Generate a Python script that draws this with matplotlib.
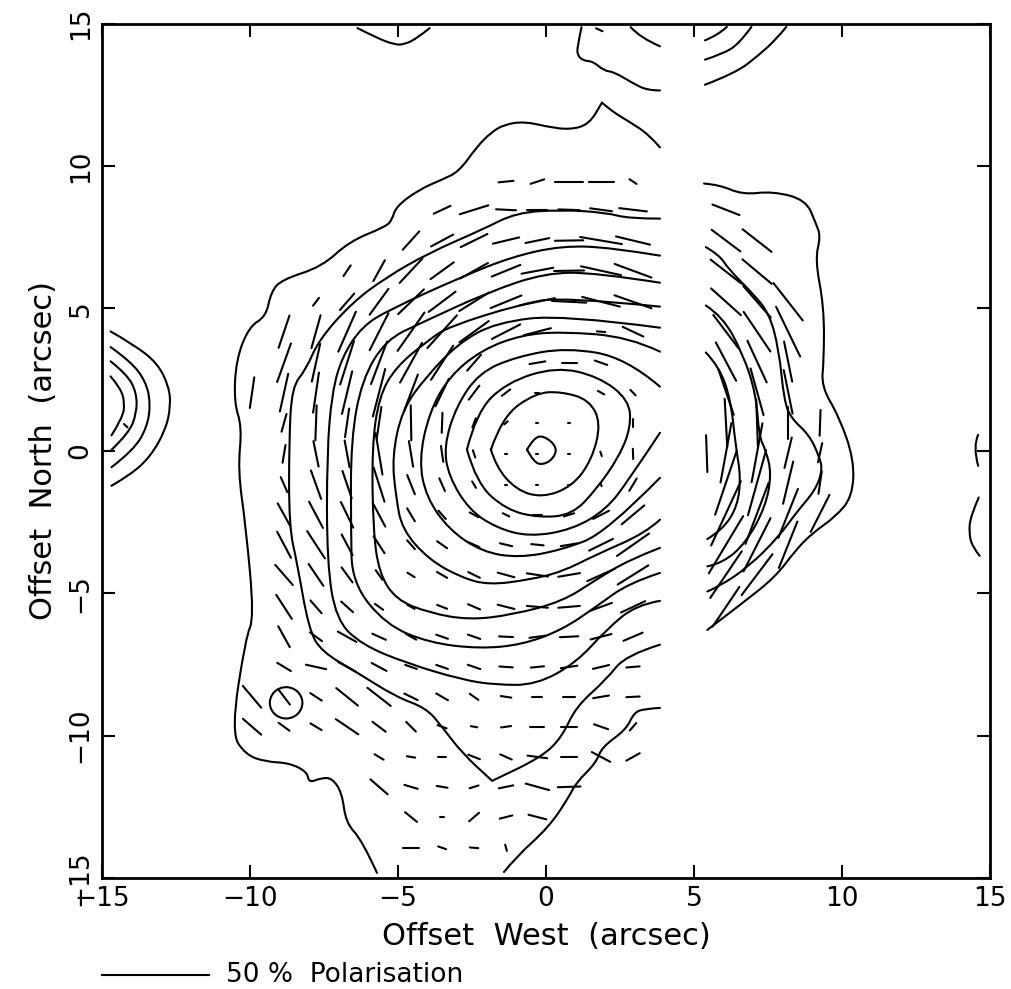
import numpy as np
import matplotlib
matplotlib.use("Agg")
import matplotlib.pyplot as plt
from matplotlib.path import Path
from matplotlib.patches import PathPatch, Circle

# contours, offsets in arcsec (x west, y north)
outer_left = [(3.85,10.65),(3.48,11.1),(2.8,11.56),(2.3,11.87),(1.89,12.22),(1.89,12.22),(1.45,11.45),(.78,11.27),(.03,11.38),
              (-.74,11.56),(-1.42,11.45),(-1.86,11.17),(-2.33,10.68),(-2.94,9.8),(-3.51,9.52),(-4.29,9.17),(-5.07,8.57),
              (-5.2,8.11),(-5.41,7.87),(-6.66,7.34),(-7.57,6.46),(-8.92,6.01),(-9.29,5.58),(-9.46,4.71),(-10.03,4.36),
              (-10.47,3.2),(-10.54,1.69),(-10.27,.84),(-10.41,-.67),(-10.14,-2.67),(-9.86,-5.87),(-10.14,-6.53),
              (-10.64,-9.9),(-10.14,-10.68),(-9.46,-10.92),(-8.68,-10.96),(-8.07,-11.27),(-8.01,-11.66),(-7.6,-11.49),
              (-7.23,-11.49),(-6.89,-12.01),(-6.76,-13.07),(-6.22,-13.66),(-5.71,-14.82)]
outer_low = [(-1.42,-14.79),(-1.01,-14.26),(.1,-13.21),(.78,-12.15),(1.01,-11.66),(1.69,-10.96),(1.89,-10.4),
             (2.7,-9.8),(2.97,-9.2),(3.31,-9.06),(3.85,-9.03)]
level_a = [(3.85,-6.81),(2.7,-7.17),(2.03,-8.04),(1.01,-8.99),(.54,-10.05),(-.14,-10.75),(-1.82,-11.59),(-1.82,-11.59),
           (-2.84,-10.61),(-3.51,-9.69),(-4.05,-9.03),(-5.07,-8.64),(-6.42,-7.76),(-7.57,-7.06),(-8.01,-6.29),(-8.41,-3.93),
           (-8.68,-2.67),(-8.68,.39),(-8.58,2.25),(-8.11,2.85),(-7.67,3.9),(-6.55,5.2),(-5.41,6.08),(-3.95,6.95),
           (-2.16,7.76),(-1.01,8.36),(.54,8.46),(2.03,8.36),(2.8,8.15),(3.85,8.15)]
level_b = [(3.85,-5.27),(3.04,-5.41),(2.03,-6.29),(1.01,-7.45),(-.34,-8.22),(-1.69,-8.22),(-2.84,-8.04),(-4.73,-7.45),
           (-6.22,-6.81),(-7.09,-5.94),(-7.4,-3.93),(-7.4,-.07),(-7.23,2.04),(-6.89,3.3),(-6.22,4.36),(-5.3,4.95),
           (-2.84,6.11),(-1.15,6.81),(.54,7.2),(2.23,7.13),(3.85,6.85)]
level_c = [(3.85,-4.29),(2.8,-4.64),(1.69,-5.48),(.54,-6.29),(-.81,-6.81),(-2.26,-6.95),(-3.95,-6.74),(-5.41,-6.11),
           (-6.55,-4.64),(-6.59,-2.77),(-6.59,.39),(-6.22,2.49),(-5.41,3.9),(-4.19,4.5),(-1.93,5.58),(0,6.25),(1.69,6.25),(3.85,5.9)]
level_d = [(3.85,-3.41),(2.8,-3.83),(1.69,-4.53),(.54,-5.3),(-1.15,-5.76),(-2.6,-5.94),(-3.95,-5.69),(-5.07,-5.23),
           (-5.64,-4.29),(-5.84,-2.77),(-5.88,.14),(-5.64,1.9),(-5.07,2.95),(-3.95,3.9),(-3.28,4.36),(-.91,5.13),(.54,5.41),(3.85,5.06)]
level_e = [(3.85,-2.42),(3.38,-2.88),(1.69,-3.65),(.54,-4.25),(-.57,-4.53),(-1.93,-4.71),(-2.84,-4.46),(-3.95,-3.83),
           (-4.86,-2.77),(-5.07,-1.62),(-5.2,-.21),(-4.86,1.44),(-4.05,2.6),(-2.94,3.79),(-1.69,4.5),(.54,4.78),(3.85,4.32)]
level_f = [(3.85,-.95),(2.03,-2.88),(.54,-3.48),(-.91,-3.76),(-2.16,-3.55),(-3.28,-2.77),(-4.05,-1.62),(-4.29,-.32),
           (-3.95,1.33),(-3.28,2.6),(-2.16,3.55),(-.81,4.07),(.54,4.18),(2.8,4.0),(3.85,3.48)]
level_g = [(3.85,.63),(2.8,-1.02),(2.03,-2.07),(.88,-2.77),(-.57,-3.02),(-1.69,-2.7),(-2.6,-2.07),(-3.28,-.91),(-3.45,.14),
           (-3.04,1.55),(-2.26,2.74),(-1.01,3.3),(.68,3.62),(2.7,3.27),(3.85,2.25)]
level_h = [(-2.67,.04),(-2.36,1.33),(-1.35,2.39),(.34,2.95),(1.79,2.6),(2.8,1.79),(2.87,.84),(2.47,-.21),(1.69,-1.37),
           (.88,-2.25),(-.24,-2.35),(-1.35,-2.07),(-2.36,-1.12),(-2.67,.04)]
level_i = [(-1.86,.04),(-1.49,1.19),(-.34,2.04),(.54,2.07),(1.45,1.79),(1.86,.98),(1.55,-.32),(.88,-1.26),(-.14,-1.65),
           (-1.01,-1.37),(-1.69,-.56),(-1.86,.04)]
level_j = [(-.64,.04),(-.41,.46),(-.07,.53),(.37,.14),(.27,-.25),(-.07,-.49),(-.41,-.42),(-.64,.04)]

right_0 = [(5.34,9.38),(5.85,9.34),(6.64,8.99),(7.65,9.11),(8.78,8.81),(9.11,8.0),(9.28,7.53),(9.09,6.71),(9.39,5.07),
           (9.39,3.19),(9.3,2.26),(9.9,1.2),(10.41,-.32),(10.35,-1.61),(9.79,-2.31),(9.0,-2.89),(8.44,-3.48),(7.76,-4.42),
           (6.64,-5.35),(5.45,-6.29)]
right_1 = [(5.4,7.15),(5.85,6.88),(6.18,6.36),(6.97,5.54),(7.54,4.83),(7.87,3.55),(8.04,1.79),(8.27,1.15),(8.89,.56),
           (9.23,-.2),(9.34,-.67),(9.11,-1.37),(8.44,-2.19),(7.87,-3.01),(6.86,-4.06),(5.85,-4.77),(5.45,-4.94)]
right_2 = [(5.4,5.1),(5.96,4.72),(6.64,3.43),(7.09,2.02),(7.2,.5),(7.42,.03),(7.62,-.79),(7.42,-1.96),(6.75,-3.24),
           (5.96,-3.95),(5.45,-4.06)]
right_3 = [(5.4,3.45),(5.85,2.96),(6.24,1.79),(6.41,.15),(6.58,-.9),(6.47,-1.96),(5.96,-2.78),(5.45,-3.1)]

# other sources cut by the edge of the map
left_arc_1 = [(-14.71,4.19),(-13.92,3.72),(-13.13,3.08),(-12.74,2.26),(-12.68,1.56),(-12.85,.74),(-13.36,-.2),(-14.03,-.84),(-14.68,-1.23)]
left_arc_2 = [(-14.71,3.64),(-14.03,3.14),(-13.52,2.43),(-13.36,1.67),(-13.47,.85),(-13.92,.03),(-14.68,-.58)]
left_arc_3 = [(-14.71,3.14),(-14.14,2.67),(-13.83,2.02),(-13.83,1.32),(-14.09,.62),(-14.68,.03)]
left_arc_4 = [(-14.71,2.61),(-14.37,2.2),(-14.23,1.67),(-14.31,1.15),(-14.68,.54)]
edge_arc_1 = [(14.6,.56),(14.42,.15),(14.6,-.53)]
edge_arc_2 = [(14.62,-1.64),(14.34,-2.3),(14.29,-2.89),(14.4,-3.36),(14.65,-3.69)]
top_arc_a = [(-6.37,14.84),(-5.75,14.51),(-5.13,14.26),(-4.79,14.26),(-4.34,14.49),(-3.93,14.84)]
top_arc_b = [(1.2,14.87),(1.06,14.2),(1.06,13.88),(1.27,13.69),(1.59,13.67),(1.96,13.34),(2.3,13.3),(2.92,12.91),(3.43,12.65),(3.85,12.65)]
top_arc_c = [(2.86,14.87),(3.2,14.49),(3.85,14.2)]
top_arc_d = [(5.37,14.41),(5.79,14.58),(6.11,14.88)]
top_arc_e = [(5.37,13.73),(5.96,13.93),(6.52,14.28),(6.94,14.88)]
top_arc_f = [(5.37,12.85),(6.41,13.26),(7.2,13.9),(7.76,14.43),(8.12,14.88)]

contours = [outer_left, outer_low, level_a, level_b, level_c, level_d, level_e, level_f, level_g, level_h, level_i, level_j,
            right_0, right_1, right_2, right_3, left_arc_1, left_arc_2, left_arc_3, left_arc_4, edge_arc_1, edge_arc_2,
            top_arc_a, top_arc_b, top_arc_c, top_arc_d, top_arc_e, top_arc_f]

# polarisation vectors, west of the gap: percent and angle in degrees per grid point
x_left = [-9.93, -8.85, -7.77, -6.72, -5.64, -4.56, -3.51, -2.43, -1.35, -0.29, 0.78, 1.86, 2.94]
y_left = [9.45, 8.46, 7.38, 6.32, 5.23, 4.18, 3.09, 2.04, 0.98, -0.11, -1.19, -2.25, -3.30, -4.36, -5.48, -6.53, -7.59,
          -8.64, -9.69, -10.75, -11.8, -12.86, -13.94]
pol_left = [
    [0,0,0,0,0,0,0,0,7,6.7,13.2,11.7,4],
    [0,0,0,0,0,0,8.7,14,9.3,9.3,10,10.3,13],
    [0,0,0,0,0,11.8,11.8,14,12.6,11.4,13.2,19.8,16.4],
    [0,0,0,6.2,11.5,15.9,13.6,15,14.5,15.1,14,19.2,18.4],
    [0,0,4.7,10.4,15.3,17,15.9,16.4,15.6,16.7,16,18.2,18.4],
    [0,16.5,16.5,21,20,22.4,21,17.1,15,13,0,3.9,10.7],
    [0,19.8,18.7,22,22,21.8,19.5,10,0,7.5,7,6.2,0],
    [15,18.7,19.6,21.2,23.7,18.7,14.6,8.4,5,1.9,0,3.4,3.6],
    [0,8.9,17,14,15.6,17,9.7,4.7,2.2,1,1,0,3.9],
    [0,8.7,12.6,13.2,20.3,12.6,7.8,3.6,1,1,1,2.3,5],
    [0,7.9,14.6,13.9,17.3,10,6.7,3.6,1,1,1,1.6,6.9],
    [0,12.6,14.3,13.7,12.8,7.2,5.3,4.7,3.4,3.9,5,8.4,14],
    [0,14.2,15.6,11.2,9.7,5.6,5.8,5.6,5.9,5.8,7.9,12.5,18.5],
    [0,12.8,12.6,8.9,5.6,4,5.5,6.1,8.1,10,10.3,14.2,17.1],
    [0,13.7,8.1,7.5,4.8,3.9,5,6.1,8.1,9.8,10.1,10.9,12.6],
    [0,11.5,7,10,7,5.6,5.8,6.2,6.5,7.5,8.6,10.1,9.8],
    [0,7.5,9.7,9.8,7.9,5.8,5.8,6.2,6.2,6.2,7.8,7.8,6.2],
    [13.6,9.3,6.5,13.2,14,7,6.4,5,5,4.7,5.9,7.5,6.2],
    [11.5,6.4,6.1,12.8,7.8,6.5,4.5,3,4.7,6.5,7.3,7,4.7],
    [0,0,0,0,5,3.9,3.9,5.9,5.9,9.3,7.8,9.8,7.2],
    [0,0,0,0,10.8,6.5,5.1,4.4,6.9,11.4,10.6,0,0],
    [0,0,0,0,0,7.3,1.9,6.2,6.1,8.6,0,0,0],
    [0,0,0,0,0,7.8,3.9,3.9,3.1,0,0,0,0],
]
ang_left = [
    [0,0,0,0,0,0,0,0,6,19,0,0,146],
    [0,0,0,0,0,0,26,18,177,0,178,172,173],
    [0,0,0,0,0,49,29,27,14,12,1,170,166],
    [0,0,0,57,62,48,37,30,23,11,1,167,159],
    [0,0,54,50,55,45,38,33,23,12,177,165,160],
    [0,72,75,67,64,56,49,37,28,15,0,175,154],
    [0,71,78,73,70,62,58,50,0,10,0,160,0],
    [82,78,82,77,76,70,65,54,38,0,0,150,133],
    [0,75,88,82,82,91,88,70,45,0,0,0,90],
    [0,81,101,100,99,99,98,107,0,0,0,108,92],
    [0,113,109,108,107,111,113,120,0,0,0,110,60],
    [0,118,117,115,117,120,130,150,153,0,18,28,41],
    [0,117,122,117,122,130,144,155,166,174,10,27,36],
    [0,130,123,125,124,147,149,153,164,171,10,25,33],
    [0,122,130,137,143,150,158,156,165,175,5,21,26],
    [0,118,143,150,155,150,160,160,177,8,3,15,24],
    [0,148,167,150,151,160,160,160,176,6,9,14,5],
    [129,126,146,140,141,153,149,144,171,0,0,10,3],
    [138,143,148,145,142,134,160,170,8,0,0,160,50],
    [0,0,0,0,148,170,0,158,155,172,0,151,30],
    [0,0,0,0,138,163,170,18,12,164,2,0,0],
    [0,0,0,0,0,140,0,42,15,165,0,0,0],
    [0,0,0,0,0,0,160,175,105,0,0,0,0],
]

# east of the gap
x_right = [6.08, 7.13, 8.18, 9.26]
y_right = [8.46, 7.38, 6.29, 5.23, 4.18, 3.13, 2.07, 0.98, -0.07, -1.12, -2.2, -3.3, -4.35, -5.48]
pol_right = [
    [13.6,0,0,0],
    [17,17.4,0,0],
    [18.5,18.1,0,0],
    [19,20,22.7,0],
    [20.1,22.9,26.6,0],
    [20.9,22.1,19.8,0],
    [23.4,23.4,21.5,0],
    [23.4,22.6,15.3,12.5],
    [29.3,29,15.1,9.5],
    [32.7,32.7,21,11],
    [34.1,31.5,25.4,20],
    [32,28.7,24.1,0],
    [27,24.5,0,0],
    [23,0,0,0],
]
ang_right = [
    [158,0,0,0],
    [142,141,0,0],
    [141,139,0,0],
    [137,130,127,0],
    [126,123,115,0],
    [117,114,101,0],
    [108,105,101,0],
    [93,92,90,88],
    [80,80,77,78],
    [72,75,77,82],
    [66,70,69,64],
    [60,64,69,0],
    [57,54,0,0],
    [57,0,0,0],
]

# a few vectors off the grid
extra_x = [5.43, -14.2, 1.8]
extra_y = [-0.1, 0.88, 14.78]
extra_pol = [17.9, 2.3, 3.4]
extra_ang = [92, 135, 155]

beam_x, beam_y, beam_r = -8.78, -8.85, 0.55
ticks = [-15, -10, -5, 0, 5, 10, 15]
tick_labels = ['\u221215', '\u221210', '\u22125', '0', '5', '10', '15']
arcsec_per_percent = 3.62 / 50


def smooth_line(ax, pts):
    # quadratic path through the midpoints, so the map contours are not angular
    verts = [pts[0]]
    codes = [Path.MOVETO]
    for i in range(1, len(pts) - 1):
        mid = ((pts[i][0] + pts[i + 1][0]) / 2, (pts[i][1] + pts[i + 1][1]) / 2)
        if i == len(pts) - 2:
            mid = pts[-1]
        verts += [pts[i], mid]
        codes += [Path.CURVE3, Path.CURVE3]
    if len(pts) == 2:
        verts.append(pts[1])
        codes.append(Path.LINETO)
    ax.add_patch(PathPatch(Path(verts, codes), fill=False, lw=1.5, ec='black', capstyle='round'))


def draw_vector(ax, x, y, pol, ang):
    half = pol * arcsec_per_percent / 2
    dx = half * np.cos(np.radians(ang))
    dy = half * np.sin(np.radians(ang))
    ax.plot([x - dx, x + dx], [y - dy, y + dy], color='black', lw=1.5, solid_capstyle='round')


plt.rcParams['font.family'] = ['DejaVu Sans']
fig = plt.figure(figsize=(10.12, 9.89), dpi=100)
ax = fig.add_axes([102 / 1012, 111 / 989, 888 / 1012, 854.5 / 989])
ax.set_xlim(-15, 15)
ax.set_ylim(-15, 15)

for c in contours:
    smooth_line(ax, c)

for j, y in enumerate(y_left):
    for i, x in enumerate(x_left):
        if pol_left[j][i] > 0:
            draw_vector(ax, x, y, pol_left[j][i], ang_left[j][i])
for j, y in enumerate(y_right):
    for i, x in enumerate(x_right):
        if pol_right[j][i] > 0:
            draw_vector(ax, x, y, pol_right[j][i], ang_right[j][i])
for i in range(len(extra_x)):
    draw_vector(ax, extra_x[i], extra_y[i], extra_pol[i], extra_ang[i])

ax.add_patch(Circle((beam_x, beam_y), beam_r, fill=False, lw=1.5, ec='black'))

ax.set_xticks(ticks)
ax.set_xticklabels(tick_labels)
ax.set_yticks(ticks)
ax.set_yticklabels(tick_labels, rotation=90, va='center')
ax.tick_params(direction='in', length=9.5, width=1.5, top=True, right=True, labelsize=19, pad=6)
for side in ax.spines.values():
    side.set_linewidth(2)

ax.set_xlabel('Offset  West  (arcsec)', fontsize=22, labelpad=7)
ax.set_ylabel('Offset  North  (arcsec)', fontsize=22, labelpad=7)

# scale bar for the vectors
ax.plot([-15, -15 + 50 * arcsec_per_percent], [-18.4, -18.4], color='black', lw=1.5, clip_on=False)
ax.text(-10.8, -18.4, '50 %  Polarisation', fontsize=19, va='center', ha='left')

fig.savefig('out.png', dpi=100)
